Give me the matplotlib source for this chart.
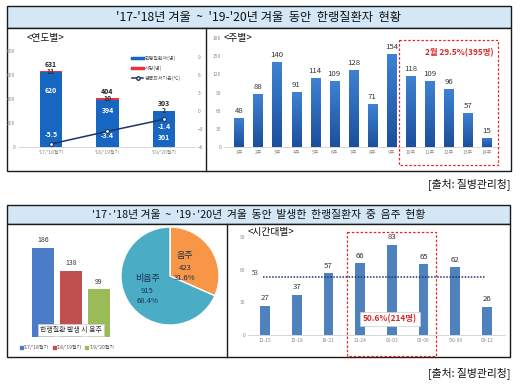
import numpy as np
import matplotlib
matplotlib.use('Agg')
import matplotlib.pyplot as plt
from matplotlib.patches import Rectangle, Patch
from matplotlib.lines import Line2D
from matplotlib.colors import LinearSegmentedColormap

plt.rcParams['font.family'] = ['Noto Sans CJK KR', 'DejaVu Sans']

W, H = 520, 385

# ---- data ----
season_labels = ["'17/'18절기", "'18/'19절기", "'19/'20절기"]
patients = [620, 394, 301]
deaths = [11, 10, 2]
totals = [631, 404, 303]
min_temp = [-5.5, -3.4, -1.4]

week_labels = ['%d주' % (i + 1) for i in range(14)]
week_counts = [48, 88, 140, 91, 114, 109, 128, 71, 154, 118, 109, 96, 57, 15]

drink_seasons = ["'17/'18절기", "'18/'19절기", "'19/'20절기"]
drink_counts = [186, 138, 99]

pie_labels = ['음주', '비음주']
pie_counts = [423, 915]
pie_pcts = ['31.6%', '68.4%']

hour_labels = ['12-15', '15-18', '18-21', '21-24', '00-03', '03-06', "'06-09", '09-12']
hour_counts = [27, 37, 57, 66, 83, 65, 62, 26]
hour_avg = 53


def box(x0, y0, x1, y1):
    # pixel box (top-left origin) -> figure rect
    return [x0 / W, 1 - y1 / H, (x1 - x0) / W, (y1 - y0) / H]


def style_axis(ax, tick_color='#8a8a8a'):
    for s in ['top', 'right', 'left']:
        ax.spines[s].set_visible(False)
    ax.spines['bottom'].set_color('#d0d0d0')
    ax.spines['bottom'].set_linewidth(0.6)
    ax.tick_params(length=0, labelsize=3.6, colors=tick_color, pad=2)
    ax.set_facecolor('none')


fig = plt.figure(figsize=(5.2, 3.85), dpi=100)

# background frames
bg = fig.add_axes([0, 0, 1, 1], zorder=0)
bg.set_xlim(0, W)
bg.set_ylim(H, 0)
bg.axis('off')

bg.add_patch(Rectangle((7, 6), 504, 22, fc='#d3e7f7', ec='#1a1a1a', lw=1))
bg.text(259, 17, "'17-'18년 겨울  ~  '19-'20년 겨울  동안  한랭질환자  현황",
        ha='center', va='center', fontsize=8.8, color='#111')
bg.add_patch(Rectangle((7, 28), 504, 143, fc='white', ec='#1a1a1a', lw=1))
bg.plot([206, 206], [28, 171], color='#1a1a1a', lw=1)
bg.text(510, 184, '[출처: 질병관리청]', ha='right', va='center', fontsize=7.8, color='#111')

bg.add_patch(Rectangle((7, 205), 503, 19, fc='#d3e7f7', ec='#1a1a1a', lw=1))
bg.text(259, 214.5, "'17·'18년 겨울  ~  '19·'20년  겨울  동안  발생한  한랭질환자  중  음주  현황",
        ha='center', va='center', fontsize=7.8, color='#111')
bg.add_patch(Rectangle((7, 224), 503, 133, fc='white', ec='#1a1a1a', lw=1))
bg.plot([227, 227], [224, 357], color='#1a1a1a', lw=1)
bg.text(510, 373, '[출처: 질병관리청]', ha='right', va='center', fontsize=7.8, color='#111')

bg.text(27, 38, '<연도별>', ha='left', va='center', fontsize=7, color='#111')
bg.text(224, 38, '<주별>', ha='left', va='center', fontsize=7, color='#111')
bg.text(248, 232, '<시간대별>', ha='left', va='center', fontsize=7, color='#111')

# ---- top-left: by season ----
ax1 = fig.add_axes(box(18, 50.7, 195, 147), zorder=2)
x1 = np.arange(len(season_labels))
ax1.bar(x1, patients, width=0.39, color='#1766c2', zorder=2)
ax1.bar(x1, deaths, bottom=patients, width=0.39, color='#e8343a', zorder=2)
ax1.set_xlim(-0.584, 2.549)
ax1.set_ylim(0, 800)
ax1.set_yticks([0, 200, 400, 600, 800])
ax1.set_xticks(x1)
ax1.set_xticklabels(season_labels)
style_axis(ax1)
pat_label_y = [470, 300, 75]
temp_label_y = [100, 95, 170]
for i in range(3):
    ax1.text(i, totals[i] + 58, str(totals[i]), ha='center', va='center',
             fontsize=5, fontweight='bold', color='#222')
    ax1.text(i, totals[i] - 2, str(deaths[i]), ha='center', va='center',
             fontsize=5, fontweight='bold', color='#333')
    ax1.text(i, pat_label_y[i], str(patients[i]), ha='center', va='center',
             fontsize=5, fontweight='bold', color='white')
    ax1.text(i, temp_label_y[i], str(min_temp[i]), ha='center', va='center',
             fontsize=5, fontweight='bold', color='white', zorder=5)

ax1r = ax1.twinx()
ax1r.plot(x1, min_temp, color='#1c3469', lw=1.1, marker='o', ms=2.8,
          mfc='white', mec='#1c3469', mew=0.8, zorder=4)
ax1r.set_ylim(-6, 10)
ax1r.set_yticks([-6, -3, 0, 3, 6, 9])
for s in ['top', 'right', 'left', 'bottom']:
    ax1r.spines[s].set_visible(False)
ax1r.tick_params(length=0, labelsize=3.6, colors='#8a8a8a', pad=2)

handles = [Line2D([], [], color='#1766c2', lw=2.5),
           Line2D([], [], color='#e8343a', lw=2.5),
           Line2D([], [], color='#1c3469', lw=1.1, marker='o', ms=2.5,
                  mfc='white', mec='#1c3469')]
ax1r.legend(handles, ['한랭질환자(명)', '사망(명)', '평균최저기온(℃)'],
            loc='upper left', bbox_to_anchor=(0.62, 1.0), frameon=False,
            fontsize=3.6, handlelength=2.2, labelspacing=0.9, handletextpad=0.4,
            labelcolor='#555')

# ---- top-right: by week ----
ax2 = fig.add_axes(box(224, 38, 500, 147.3), zorder=2)
x2 = np.arange(len(week_counts))
bars2 = ax2.bar(x2, week_counts, width=0.49, color='#2a66bd', zorder=2)
cmap = LinearSegmentedColormap.from_list('g', ['#1c4f9c', '#3f82d4'])
grad = np.linspace(0, 1, 64).reshape(-1, 1)
for b in bars2:
    bx, by = b.get_xy()
    im = ax2.imshow(grad, cmap=cmap, origin='lower', aspect='auto', zorder=2,
                    extent=[bx, bx + b.get_width(), by, by + b.get_height()])
    im.set_clip_path(b)
    b.set_facecolor('none')
ax2.set_xlim(-0.79, 13.7)
ax2.set_ylim(0, 180)
ax2.set_yticks(range(0, 181, 30))
ax2.set_xticks(x2)
ax2.set_xticklabels(week_labels)
style_axis(ax2)
for i, v in enumerate(week_counts):
    ax2.text(i, v + 5, str(v), ha='center', va='bottom', fontsize=5.6, color='#333')

# ---- bottom-left: drinking bars ----
ax3 = fig.add_axes(box(20, 240, 125, 337), zorder=2)
x3 = np.arange(len(drink_counts))
drink_colors = ['#4a7cc7', '#c0504d', '#9bbb59']
ax3.bar(x3, drink_counts, width=0.78, color=drink_colors)
ax3.set_xlim(-0.82, 2.93)
ax3.set_ylim(0, 202)
ax3.axis('off')
for i, v in enumerate(drink_counts):
    ax3.text(i, v + 8, str(v), ha='center', va='bottom', fontsize=5, color='#333')
leg_handles = [Patch(color=c) for c in drink_colors]
leg = bg.legend(leg_handles, drink_seasons, loc='center', bbox_to_anchor=(67, 348),
                bbox_transform=bg.transData, ncol=3, frameon=False, fontsize=3.6,
                handlelength=0.6, handleheight=0.6, handletextpad=0.2,
                columnspacing=0.7, labelcolor='#555')

# ---- pie ----
ax4 = fig.add_axes(box(120, 226, 220, 326), zorder=2)
ax4.pie(pie_counts, colors=['#f79646', '#4bacc6'], startangle=90, counterclock=False,
        radius=1, wedgeprops=dict(edgecolor='white', linewidth=1))
ax4.set_xlim(-1.02, 1.02)
ax4.set_ylim(-1.02, 1.02)
label_pos = [(0.3, 0.17), (-0.46, -0.3)]
for (lx, ly), lab, n, p in zip(label_pos, pie_labels, pie_counts, pie_pcts):
    ax4.text(lx, ly + 0.24, lab, ha='center', va='center', fontsize=6.5, color='#1f3050')
    ax4.text(lx, ly, str(n), ha='center', va='center', fontsize=5.5, color='#1f3050')
    ax4.text(lx, ly - 0.22, p, ha='center', va='center', fontsize=5.5, color='#1f3050')

# ---- bottom-right: by hour ----
ax5 = fig.add_axes(box(248, 237, 505, 335), zorder=2)
x5 = np.arange(len(hour_counts))
ax5.bar(x5, hour_counts, width=0.3, color='#4f81bd', zorder=2)
ax5.set_xlim(-0.54, 7.57)
ax5.set_ylim(0, 90)
ax5.set_yticks([0, 30, 60, 90])
ax5.set_xticks(x5)
ax5.set_xticklabels(hour_labels)
style_axis(ax5)
for i, v in enumerate(hour_counts):
    ax5.text(i, v + 3, str(v), ha='center', va='bottom', fontsize=5.6, color='#333')
ax5.hlines(hour_avg, -0.07, 6.95, colors='#1c3469', linestyles=(0, (1, 1)), lw=1.1, zorder=3)
ax5.text(-0.32, hour_avg, str(hour_avg), ha='center', va='bottom', fontsize=4.5, color='#444')

# ---- overlay: highlight boxes and callouts ----
ov = fig.add_axes([0, 0, 1, 1], zorder=10)
ov.set_xlim(0, W)
ov.set_ylim(H, 0)
ov.axis('off')
ov.patch.set_alpha(0)
ov.add_patch(Rectangle((399, 40), 99, 125, fill=False, ec='#e02828', lw=0.9,
                       ls=(0, (2, 1.5))))
ov.text(494, 53, '2월 29.5%(395명)', ha='right', va='center', fontsize=6,
        fontweight='bold', color='#d42a2a')
ov.add_patch(Rectangle((347, 232), 89, 124, fill=False, ec='#e02828', lw=0.9,
                       ls=(0, (2, 1.5))))
ov.text(390, 319, '50.6%(214명)', ha='center', va='center', fontsize=6,
        fontweight='bold', color='#d42a2a',
        bbox=dict(boxstyle='square,pad=0.35', fc='white', ec='#cccccc', lw=0.5))
ov.text(71, 330, '한랭질환 발생 시 음주', ha='center', va='center', fontsize=5,
        color='#333',
        bbox=dict(boxstyle='square,pad=0.3', fc='white', ec='#cccccc', lw=0.5))

fig.savefig('out.png', dpi=100)
